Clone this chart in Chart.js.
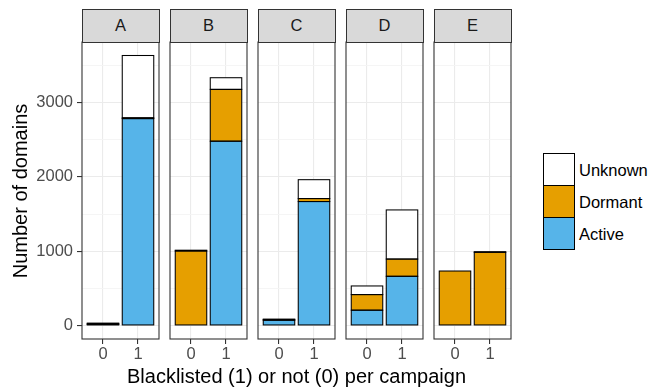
<!DOCTYPE html>
<html>
<head>
<meta charset="utf-8">
<script src="https://cdn.jsdelivr.net/npm/chart.js@4.4.1/dist/chart.umd.min.js"></script>
<style>
  html, body { margin: 0; padding: 0; background: #ffffff; }
  #fig { position: relative; width: 652px; height: 392px; overflow: hidden;
         font-family: "Liberation Sans", Arial, Helvetica, sans-serif; background: #ffffff; }
  #fig canvas { position: absolute; top: 0; }
  .strip { position: absolute; box-sizing: border-box; border: 1px solid #333333;
           background: #D9D9D9; color: #1A1A1A; font-size: 16.5px;
           display: flex; align-items: center; justify-content: center; }
  .key { position: absolute; box-sizing: border-box; border: 1px solid #000000; }
  .keylabel { position: absolute; font-size: 16.5px; color: #000000; line-height: 20px; white-space: nowrap; }
  .title { position: absolute; font-size: 20px; color: #000000; line-height: 24px; white-space: nowrap; text-align: center; }
</style>
</head>
<body>
<div id="fig"></div>
<script>
// Facets, x categories and stacked series
const campaigns = ['A', 'B', 'C', 'D', 'E'];
const blacklisted = ['0', '1'];
const statuses = ['Active', 'Dormant', 'Unknown'];
const statusColors = ['#56B4E9', '#E69F00', '#FFFFFF'];

// Number of domains per campaign, [not blacklisted, blacklisted]
const activeCounts  = [[14, 2784], [0, 2480], [72, 1668], [206, 662], [0, 0]];
const dormantCounts = [[10, 10], [1003, 697], [5, 40], [210, 232], [733, 985]];
const unknownCounts = [[8, 839], [10, 157], [9, 254], [116, 661], [0, 8]];

// Y axis ticks
const yTickValues  = [0, 1000, 2000, 3000];
const yMinorValues = [500, 1500, 2500, 3500];

const xTitle = 'Blacklisted (1) or not (0) per campaign';
const yTitle = 'Number of domains';

const countsByStatus = [activeCounts, dormantCounts, unknownCounts];

// Shared value range: data range expanded by 5% on both ends
const totals = campaigns.map((_, p) =>
  blacklisted.map((_, c) => countsByStatus.reduce((s, arr) => s + arr[p][c], 0)));
const yTop = Math.max(...totals.flat());
const yMin = -0.05 * yTop;
const yMax = 1.05 * yTop;

// Layout
const FIG_H = 392;
const PANEL_X0 = 82, PANEL_W = 77, PANEL_GAP = 11;
const PLOT_TOP = 42, PLOT_BOTTOM = 339;
const STRIP_TOP = 8.5;

Chart.defaults.font.family = '"Liberation Sans", Arial, Helvetica, sans-serif';

const fig = document.getElementById('fig');

// Outline every bar segment with a centred black stroke
const barOutlines = {
  id: 'barOutlines',
  afterDatasetsDraw(chart) {
    const { ctx } = chart;
    ctx.save();
    ctx.strokeStyle = '#000000';
    ctx.lineWidth = 1.05;
    chart.data.datasets.forEach((ds, i) => {
      const meta = chart.getDatasetMeta(i);
      meta.data.forEach((bar, j) => {
        if (!ds.data[j] || ds.data[j].y === 0) return;
        const top = Math.min(bar.y, bar.base);
        const h = Math.abs(bar.base - bar.y);
        ctx.strokeRect(bar.x - bar.width / 2, top, bar.width, h);
      });
    });
    ctx.restore();
  }
};

// Border drawn around each panel, on top of the bars
const panelFrame = {
  id: 'panelFrame',
  afterDraw(chart) {
    const { ctx, chartArea: a } = chart;
    ctx.save();
    ctx.strokeStyle = '#333333';
    ctx.lineWidth = 1.1;
    ctx.strokeRect(a.left, a.top, a.right - a.left, a.bottom - a.top);
    ctx.restore();
  }
};

const allYTicks = [...yTickValues, ...yMinorValues].sort((a, b) => a - b);
const isMajor = v => yTickValues.includes(v);

campaigns.forEach((name, p) => {
  const left = PANEL_X0 + p * (PANEL_W + PANEL_GAP);
  const axisW = p === 0 ? left : 4;
  const canvasLeft = left - axisW;
  const canvasW = axisW + PANEL_W + 3;

  const canvas = document.createElement('canvas');
  canvas.width = canvasW;
  canvas.height = FIG_H;
  canvas.style.left = canvasLeft + 'px';
  canvas.style.width = canvasW + 'px';
  canvas.style.height = FIG_H + 'px';
  fig.appendChild(canvas);

  const datasets = statuses.map((status, k) => ({
    label: status,
    data: blacklisted.map((_, c) => ({ x: c, y: countsByStatus[k][p][c] })),
    backgroundColor: statusColors[k],
    borderWidth: 0,
    inflateAmount: 0,
    categoryPercentage: 1,
    barPercentage: 0.9
  }));

  new Chart(canvas, {
    type: 'bar',
    data: { datasets },
    options: {
      responsive: false,
      animation: false,
      events: [],
      layout: { padding: { top: PLOT_TOP, right: 3, left: 0, bottom: 0 } },
      plugins: { legend: { display: false }, tooltip: { enabled: false }, title: { display: false } },
      scales: {
        x: {
          type: 'linear', min: -0.6, max: 1.6, stacked: true, offset: false,
          afterBuildTicks: s => { s.ticks = blacklisted.map((_, c) => ({ value: c })); },
          afterFit: s => { s.height = FIG_H - PLOT_BOTTOM; },
          ticks: {
            callback: v => blacklisted[v],
            color: '#4D4D4D', font: { size: 16.5 }, padding: 1,
            autoSkip: false, maxRotation: 0, minRotation: 0
          },
          grid: { offset: false, color: '#EBEBEB', lineWidth: 1.1,
                  tickColor: '#333333', tickLength: 5, tickWidth: 1.1 },
          border: { display: false }
        },
        y: {
          type: 'linear', min: yMin, max: yMax, stacked: true,
          afterBuildTicks: s => { s.ticks = allYTicks.map(v => ({ value: v })); },
          afterFit: s => { s.width = axisW; },
          ticks: {
            display: p === 0,
            callback: v => (isMajor(v) ? String(v) : ''),
            color: '#4D4D4D', font: { size: 16.5 }, padding: 4
          },
          grid: {
            color: ctx => (ctx.tick && isMajor(ctx.tick.value) ? '#EBEBEB' : '#F4F4F4'),
            lineWidth: ctx => (ctx.tick && isMajor(ctx.tick.value) ? 1.1 : 0.9),
            drawTicks: p === 0,
            tickLength: 5,
            tickColor: ctx => (ctx.tick && isMajor(ctx.tick.value) ? '#333333' : 'rgba(0,0,0,0)'),
            tickWidth: 1.1
          },
          border: { display: false }
        }
      }
    },
    plugins: [barOutlines, panelFrame]
  });

  // Facet strip
  const strip = document.createElement('div');
  strip.className = 'strip';
  strip.style.left = (left - 0.5) + 'px';
  strip.style.top = STRIP_TOP + 'px';
  strip.style.width = (PANEL_W + 1) + 'px';
  strip.style.height = (PLOT_TOP + 0.5 - STRIP_TOP) + 'px';
  strip.textContent = name;
  fig.appendChild(strip);
});

// Axis titles
const xt = document.createElement('div');
xt.className = 'title';
const panelsRight = PANEL_X0 + campaigns.length * PANEL_W + (campaigns.length - 1) * PANEL_GAP;
xt.style.left = PANEL_X0 + 'px';
xt.style.width = (panelsRight - PANEL_X0) + 'px';
xt.style.top = '364px';
xt.textContent = xTitle;
fig.appendChild(xt);

const yt = document.createElement('div');
yt.className = 'title';
yt.style.width = '300px';
yt.style.height = '24px';
const yMid = (PLOT_TOP + PLOT_BOTTOM) / 2;
yt.style.left = (19.5 - 150) + 'px';
yt.style.top = (yMid - 12) + 'px';
yt.style.transform = 'rotate(-90deg)';
yt.textContent = yTitle;
fig.appendChild(yt);

// Legend, top entry is the top of the stack
const KEY_X = 543, KEY_Y = 153, KEY_W = 32, KEY_H = 33, KEY_STEP = 32;
statuses.slice().reverse().forEach((status, i) => {
  const k = statuses.length - 1 - i;
  const key = document.createElement('div');
  key.className = 'key';
  key.style.left = KEY_X + 'px';
  key.style.top = (KEY_Y + i * KEY_STEP) + 'px';
  key.style.width = KEY_W + 'px';
  key.style.height = KEY_H + 'px';
  key.style.background = statusColors[k];
  fig.appendChild(key);

  const lab = document.createElement('div');
  lab.className = 'keylabel';
  lab.style.left = (KEY_X + KEY_W + 4) + 'px';
  lab.style.top = (KEY_Y + i * KEY_STEP + KEY_H / 2 - 10) + 'px';
  lab.textContent = status;
  fig.appendChild(lab);
});
</script>
</body>
</html>
